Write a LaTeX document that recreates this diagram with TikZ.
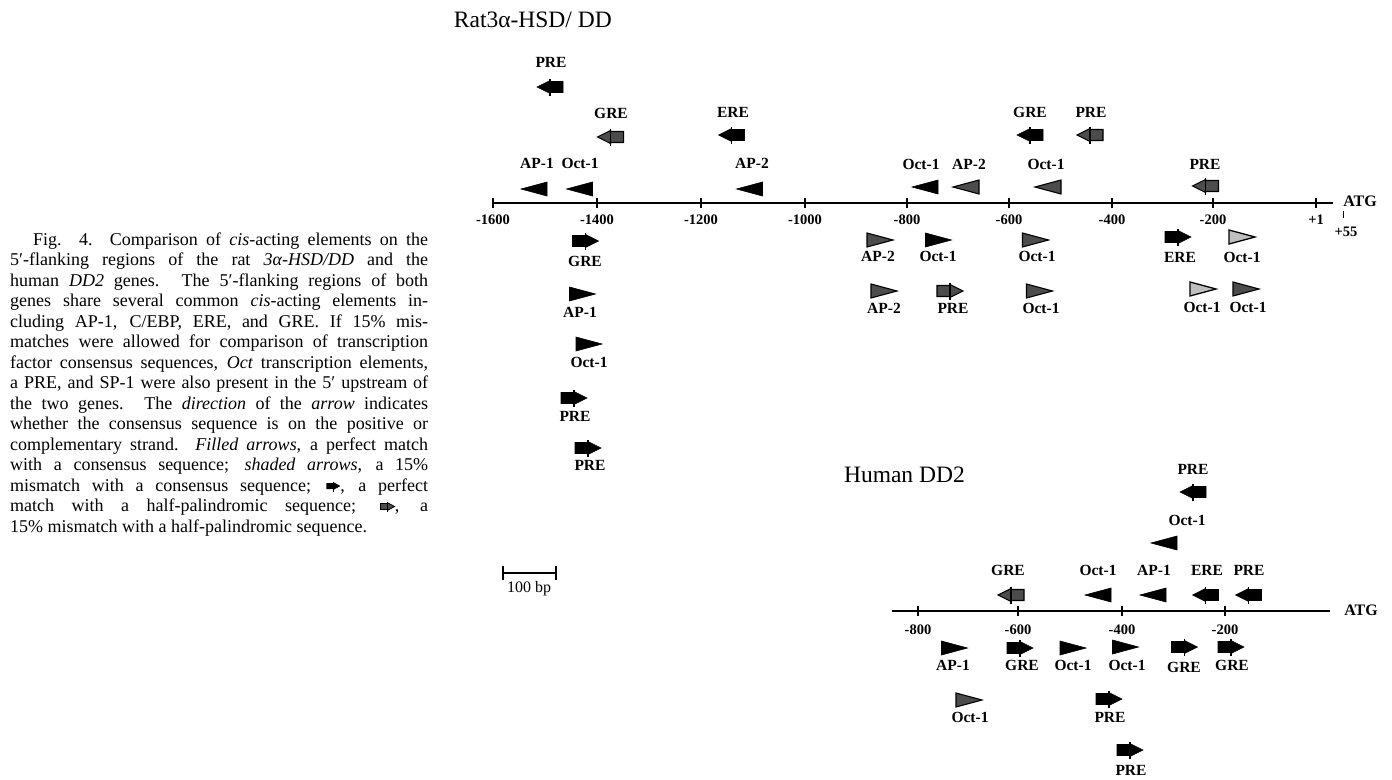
\documentclass[tikz,border=0pt]{standalone}
\usepackage{fontspec}
\setmainfont{Liberation Serif}
\newcommand{\halfpalF}{\tikz[x=1pt,y=1pt,baseline=-0.6ex]{\fill (-7,-3)--(0,-3)--(0,-3.8)--(7,0)--(0,3.8)--(0,3)--(-7,3)--cycle; \draw[line width=1pt](0,4.5)--(0,-5.5);}}
\newcommand{\halfpalS}{\tikz[x=1pt,y=1pt,baseline=-0.6ex]{\filldraw[fill=black!70,line width=0.8pt] (-7,-3)--(0,-3)--(0,-3.8)--(7,0)--(0,3.8)--(0,3)--(-7,3)--cycle; \draw[line width=1pt](0,4.5)--(0,-5.5);}}
\begin{document}
\begin{tikzpicture}[x=1pt,y=-1pt,
  lab/.style={font=\bfseries\fontsize{15.5}{15.5}\selectfont,inner sep=0pt},
  num/.style={font=\bfseries\fontsize{14.5}{14.5}\selectfont,inner sep=0pt},
  ttl/.style={font=\fontsize{23.5}{23.5}\selectfont,inner sep=0pt},
  capline/.style={anchor=base west,inner sep=0pt,font=\fontsize{18}{20}\selectfont},
  filled/.style={fill=black,draw=black,line width=0.6pt},
  shaded/.style={fill=black!70,draw=black,line width=1.1pt},
  lightshaded/.style={fill=black!25,draw=black,line width=1.3pt},
  axis/.style={line width=1.6pt},
  tick/.style={line width=1.3pt},
  triR/.pic={\path[pic actions] (-13,-7) -- (13,0) -- (-13,7) -- cycle;},
  triL/.pic={\path[pic actions] (13,-7) -- (-13,0) -- (13,7) -- cycle;},
  halfR/.pic={\path[pic actions] (-13,-5.5) -- (0,-5.5) -- (0,-6.5) -- (13,0) -- (0,6.5) -- (0,5.5) -- (-13,5.5) -- cycle;
              \draw[line width=1.6pt] (0,-8) -- (0,9);},
  halfL/.pic={\path[pic actions] (13,-5.5) -- (0,-5.5) -- (0,-6.5) -- (-13,0) -- (0,6.5) -- (0,5.5) -- (13,5.5) -- cycle;
              \draw[line width=1.6pt] (0,-8) -- (0,9);},
]
\useasboundingbox (0,0) rectangle (1392,779);
\fill[white] (0,0) rectangle (1392,779);

% ---------------- caption ----------------
\node[capline] (c1) at (33,245) {\makebox[395pt][s]{Fig. 4. Comparison of \textit{cis}-acting elements on the}};
\node[capline] (c2) at (10,265.5) {\makebox[418pt][s]{5′-flanking regions of the rat \textit{3α-HSD/DD} and the}};
\node[capline] (c3) at (10,286) {\makebox[418pt][s]{human \textit{DD2} genes. The 5′-flanking regions of both}};
\node[capline] (c4) at (10,306.5) {\makebox[418pt][s]{genes share several common \textit{cis}-acting elements in-}};
\node[capline] (c5) at (10,327) {\makebox[418pt][s]{cluding AP-1, C/EBP, ERE, and GRE. If 15\% mis-}};
\node[capline] (c6) at (10,347.5) {\makebox[418pt][s]{matches were allowed for comparison of transcription}};
\node[capline] (c7) at (10,368) {\makebox[418pt][s]{factor consensus sequences, \textit{Oct} transcription elements,}};
\node[capline] (c8) at (10,388.5) {\makebox[418pt][s]{a PRE, and SP-1 were also present in the 5′ upstream of}};
\node[capline] (c9) at (10,409) {\makebox[418pt][s]{the two genes. The \textit{direction} of the \textit{arrow} indicates}};
\node[capline] (c10) at (10,429.5) {\makebox[418pt][s]{whether the consensus sequence is on the positive or}};
\node[capline] (c11) at (10,450) {\makebox[418pt][s]{complementary strand. \textit{Filled arrows}, a perfect match}};
\node[capline] (c12) at (10,470.5) {\makebox[418pt][s]{with a consensus sequence; \textit{shaded arrows}, a 15\%}};
\node[capline] (c13) at (10,491) {\makebox[418pt][s]{mismatch with a consensus sequence; \halfpalF, a perfect}};
\node[capline] (c14) at (10,511.5) {\makebox[418pt][s]{match with a half-palindromic sequence; \halfpalS, a}};
\node[capline] (c15) at (10,532) {15\% mismatch with a half-palindromic sequence.};

% ---------------- Rat ----------------
\node[ttl,anchor=east] (rtitle) at (612,20) {Rat3α-HSD/ DD};
\coordinate (ratL) at (493,203);
\coordinate (ratR) at (1333,203);
\draw[axis] (ratL) -- (ratR);
\foreach \x/\t [count=\i] in {493/-1600,597/-1400,701/-1200,805/-1000,907/-800,1009/-600,1112/-400,1213/-200,1316/+1}{
  \draw[tick] (\x,198) -- (\x,208);
  \node[num] (rn\i) at (\x,220) {\t};
}
\node[font=\bfseries\fontsize{16}{16}\selectfont,inner sep=0pt] (ratg) at (1360,201) {ATG};
\draw[line width=0.8pt] (1343,211) -- (1343,218);
\node[num] (r55) at (1346,232) {+55};

% rat arrows above axis
\pic[filled] at (550,87) {halfL};
\pic[shaded] at (610.5,137) {halfL};
\pic[filled] at (731.5,135) {halfL};
\pic[filled] at (534,189) {triL};
\pic[filled] at (579.5,189) {triL};
\pic[filled] at (749.5,189) {triL};
\pic[filled] at (925,187) {triL};
\pic[shaded] at (966,187) {triL};
\pic[shaded] at (1048,187) {triL};
\pic[filled] at (1030,135) {halfL};
\pic[shaded] at (1090,135) {halfL};
\pic[shaded] at (1205.5,186) {halfL};
% rat labels above
\node[lab] (ra1) at (551,62) {PRE};
\node[lab] (ra2) at (611,113) {GRE};
\node[lab] (ra3) at (733,112) {ERE};
\node[lab] (ra4) at (537,163) {AP-1};
\node[lab] (ra5) at (580,163) {Oct-1};
\node[lab] (ra6) at (752,163) {AP-2};
\node[lab] (ra7) at (921,164) {Oct-1};
\node[lab] (ra8) at (969,164) {AP-2};
\node[lab] (ra9) at (1046,164) {Oct-1};
\node[lab] (ra10) at (1030,112) {GRE};
\node[lab] (ra11) at (1091,112) {PRE};
\node[lab] (ra12) at (1205,164) {PRE};

% rat arrows below axis
\pic[filled] at (585.5,241) {halfR};
\pic[filled] at (582.5,294) {triR};
\pic[filled] at (589,344) {triR};
\pic[filled] at (574,398) {halfR};
\pic[filled] at (588,448) {halfR};
\pic[shaded] at (880,240) {triR};
\pic[filled] at (938.5,240) {triR};
\pic[shaded] at (1035.5,240) {triR};
\pic[shaded] at (884,291) {triR};
\pic[shaded] at (950,291) {halfR};
\pic[shaded] at (1039.5,291) {triR};
\pic[filled] at (1178,237) {halfR};
\pic[lightshaded] at (1242,237) {triR};
\pic[lightshaded] at (1203,289) {triR};
\pic[shaded] at (1246,289) {triR};
% rat labels below
\node[lab] (rb1) at (585,261) {GRE};
\node[lab] (rb2) at (580,312) {AP-1};
\node[lab] (rb3) at (589,362) {Oct-1};
\node[lab] (rb4) at (575,416) {PRE};
\node[lab] (rb5) at (590,465) {PRE};
\node[lab] (rb6) at (878,256) {AP-2};
\node[lab] (rb7) at (938,256) {Oct-1};
\node[lab] (rb8) at (1037,256) {Oct-1};
\node[lab] (rb9) at (884,308) {AP-2};
\node[lab] (rb10) at (953,308) {PRE};
\node[lab] (rb11) at (1041,308) {Oct-1};
\node[lab] (rb12) at (1180,257) {ERE};
\node[lab] (rb13) at (1242,257) {Oct-1};
\node[lab] (rb14) at (1202,307) {Oct-1};
\node[lab] (rb15) at (1248,307) {Oct-1};

% scale bar
\coordinate (sbL) at (503,573);
\coordinate (sbR) at (556,573);
\draw[line width=1.5pt] (sbL) -- (sbR);
\draw[line width=1.3pt] (503,566) -- (503,580) (556,566) -- (556,580);
\node[font=\fontsize{16}{16}\selectfont,inner sep=0pt] (sblab) at (529,589) {100 bp};

% ---------------- Human ----------------
\node[ttl,anchor=east] (htitle) at (965,475) {Human DD2};
\coordinate (humL) at (892,611);
\coordinate (humR) at (1330,611);
\draw[axis] (humL) -- (humR);
\foreach \x/\t [count=\i] in {918/-800,1018/-600,1122/-400,1225/-200}{
  \draw[tick] (\x,606) -- (\x,616);
  \node[num] (hn\i) at (\x,630) {\t};
}
\node[font=\bfseries\fontsize{16}{16}\selectfont,inner sep=0pt] (hatg) at (1361,610) {ATG};

% human above
\pic[filled] at (1193,492) {halfL};
\pic[filled] at (1164,543) {triL};
\pic[shaded] at (1011,595) {halfL};
\pic[filled] at (1098,595) {triL};
\pic[filled] at (1153,595) {triL};
\pic[filled] at (1205.5,595) {halfL};
\pic[filled] at (1248.5,595) {halfL};
\node[lab] (ha1) at (1193,469) {PRE};
\node[lab] (ha2) at (1187,520) {Oct-1};
\node[lab] (ha3) at (1008,570) {GRE};
\node[lab] (ha4) at (1098,570) {Oct-1};
\node[lab] (ha5) at (1154,570) {AP-1};
\node[lab] (ha6) at (1207,570) {ERE};
\node[lab] (ha7) at (1249,570) {PRE};

% human below
\pic[filled] at (954.5,648) {triR};
\pic[filled] at (1020,648) {halfR};
\pic[filled] at (1073,648) {triR};
\pic[filled] at (1125.5,647) {triR};
\pic[filled] at (1184.5,647) {halfR};
\pic[filled] at (1231,647) {halfR};
\pic[shaded] at (969,700) {triR};
\pic[filled] at (1109,699) {halfR};
\pic[filled] at (1130,750) {halfR};
\node[lab] (hb1) at (953,665) {AP-1};
\node[lab] (hb2) at (1022,665) {GRE};
\node[lab] (hb3) at (1073,665) {Oct-1};
\node[lab] (hb4) at (1127,665) {Oct-1};
\node[lab] (hb5) at (1184,667) {GRE};
\node[lab] (hb6) at (1232,665) {GRE};
\node[lab] (hb7) at (970,717) {Oct-1};
\node[lab] (hb8) at (1110,717) {PRE};
\node[lab] (hb9) at (1131,770) {PRE};
\end{tikzpicture}
\end{document}
